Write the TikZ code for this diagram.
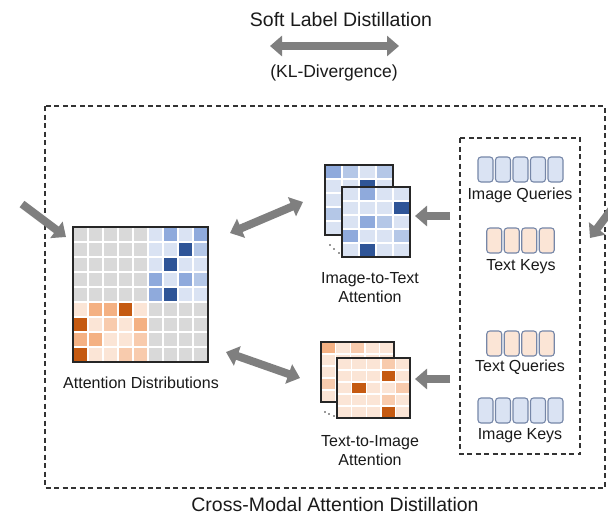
\documentclass[tikz,border=0pt]{standalone}
\usepackage{fontspec}
\setmainfont{Liberation Sans}
\usetikzlibrary{arrows.meta}
\definecolor{cG}{HTML}{D9D9D9}
\definecolor{cB0}{HTML}{DAE3F3}
\definecolor{cB1}{HTML}{B4C7E7}
\definecolor{cB2}{HTML}{8FAADC}
\definecolor{cB3}{HTML}{2F5597}
\definecolor{cO0}{HTML}{FBE5D6}
\definecolor{cO1}{HTML}{F8CBAD}
\definecolor{cO2}{HTML}{F4B183}
\definecolor{cO3}{HTML}{C55A11}
\definecolor{arrgray}{HTML}{7F7F7F}
\definecolor{txt}{HTML}{1A1A1A}
\definecolor{tokborder}{HTML}{7687A8}
\definecolor{tokblue}{HTML}{DAE3F3}
\definecolor{tokorange}{HTML}{FBE5D6}
\newcommand\heatmap[6]{%
  \foreach \rowlist [count=\r] in {#5} {
    \foreach \cc [count=\k] in \rowlist {
      \filldraw[fill=\cc, draw=white, line width=#6] ({#1+(\k-1)*#3},{#2+(\r-1)*#4}) rectangle ++(#3,#4);
    }
  }%
}
\newcommand\tokens[5]{% centre x, top y, count, fill, name
  \foreach \i in {1,...,#3} {
    \draw[tok, fill=#4] ({#1-(#3*17.5-2.5)/2+(\i-1)*17.5},#2) rectangle ++(15,25);
  }%
  \coordinate (#5) at (#1,#2);
}
\begin{document}
\begin{tikzpicture}[x=1pt,y=-1pt,
  lbl/.style={text=txt, font=\fontsize{16}{19}\selectfont, align=center, inner sep=0pt},
  big/.style={text=txt, font=\fontsize{19.5}{23}\selectfont, inner sep=0pt},
  dashbox/.style={draw=black!80, line width=1.3pt, dash pattern=on 5pt off 3.5pt},
  tok/.style={draw=tokborder, line width=1.1pt, rounded corners=3pt},
  fatarrow/.style={draw=arrgray, line width=8pt, -{Triangle[width=20pt,length=12pt]}},
  fatdbl/.style={draw=arrgray, line width=8pt, {Triangle[width=20pt,length=12pt]}-{Triangle[width=20pt,length=12pt]}},
  frame/.style={draw=black!85, line width=1.3pt}]
\useasboundingbox (0,0) rectangle (608,515);
\fill[white] (0,0) rectangle (608,515);

% titles
\node[big] (title) at (341,20) {Soft Label Distillation};
\node[big, font=\fontsize{17.5}{21}\selectfont] (kl) at (334,73) {(KL-Divergence)};
\coordinate (tl) at (270,46);
\coordinate (tr) at (399,46);
\draw[fatdbl] (tl) -- (tr);

% outer dashed box
\draw[dashbox] (45,106) rectangle (605,488);
\node[big] (bottom) at (335,505) {Cross-Modal Attention Distillation};

% incoming arrows
\coordinate (inL1) at (22,204);
\coordinate (inL2) at (66,237);
\draw[fatarrow] (inL1) -- (inL2);
\begin{scope}
\clip (0,0) rectangle (608,515);
\coordinate (inR1) at (614,206);
\coordinate (inR2) at (590,238);
\draw[fatarrow] (inR1) -- (inR2);
\end{scope}

% big matrix
\heatmap{73}{227}{15}{15}{%
 {cG,cG,cG,cG,cG,cB0,cB2,cB0,cB2},
 {cG,cG,cG,cG,cG,cB0,cB0,cB3,cB1},
 {cG,cG,cG,cG,cG,cB0,cB3,cB0,cB0},
 {cG,cG,cG,cG,cG,cB2,cB0,cB2,cB1},
 {cG,cG,cG,cG,cG,cB2,cB3,cB0,cB0},
 {cO0,cO2,cO2,cO3,cO0,cG,cG,cG,cG},
 {cO3,cO0,cO1,cO0,cO2,cG,cG,cG,cG},
 {cO2,cO2,cO0,cO0,cO1,cG,cG,cG,cG},
 {cO3,cO0,cO0,cO1,cO1,cG,cG,cG,cG}}{1.8pt}
\draw[frame] (73,227) rectangle (208,362);
\node[lbl] (attd) at (141,383) {Attention Distributions};

% image-to-text stack
\heatmap{325}{165}{17}{14}{%
 {cB2,cB1,cB0,cB1},
 {cB0,cB0,cB3,cB0},
 {cB0,cB0,cB0,cB0},
 {cB1,cB0,cB0,cB0},
 {cB0,cB0,cB0,cB0}}{1.4pt}
\draw[frame] (325,165) rectangle (393,235);
\fill[white] (342,187) rectangle (410,257);
\heatmap{342}{187}{17}{14}{%
 {cB0,cB2,cB0,cB0},
 {cB0,cB0,cB0,cB3},
 {cB0,cB2,cB1,cB0},
 {cB2,cB0,cB0,cB1},
 {cB0,cB3,cB0,cB0}}{1.4pt}
\draw[frame] (342,187) rectangle (410,257);
\fill[black!80] (330,245) circle (0.9) (334,249) circle (0.9) (339,253) circle (0.9);
\node[lbl] (i2t) at (370,288) {Image-to-Text\\Attention};

% text-to-image stack
\heatmap{321}{342}{14.6}{12}{%
 {cO2,cO0,cO1,cO0,cO0},
 {cO0,cO0,cO0,cO0,cO0},
 {cO0,cO0,cO0,cO0,cO0},
 {cO1,cO0,cO0,cO0,cO0},
 {cO0,cO0,cO0,cO0,cO0}}{1.4pt}
\draw[frame] (321,342) rectangle (394,402);
\fill[white] (337,358) rectangle (410,418);
\heatmap{337}{358}{14.6}{12}{%
 {cO0,cO0,cO0,cO1,cO0},
 {cO0,cO0,cO0,cO3,cO0},
 {cO0,cO3,cO0,cO0,cO1},
 {cO0,cO0,cO0,cO1,cO0},
 {cO0,cO0,cO0,cO3,cO0}}{1.4pt}
\draw[frame] (337,358) rectangle (410,418);
\fill[black!80] (325,412) circle (0.9) (329,414) circle (0.9) (334,416) circle (0.9);
\node[lbl] (t2i) at (370,451) {Text-to-Image\\Attention};

% middle double arrows
\coordinate (m1a) at (230,233);
\coordinate (m1b) at (303,202);
\draw[fatdbl] (m1a) -- (m1b);
\coordinate (m2a) at (226,352);
\coordinate (m2b) at (300,378);
\draw[fatdbl] (m2a) -- (m2b);

% inner dashed box and tokens
\draw[dashbox] (460,138) rectangle (580,454);
\tokens{520.5}{157}{5}{tokblue}{iq}
\node[lbl] (iqt) at (520,195) {Image Queries};
\tokens{520.5}{228}{4}{tokorange}{tk}
\node[lbl] (tkt) at (521,267) {Text Keys};
\tokens{520.5}{331}{4}{tokorange}{tq}
\node[lbl] (tqt) at (520,367) {Text Queries};
\tokens{520.5}{398}{5}{tokblue}{ik}
\node[lbl] (ikt) at (520,436) {Image Keys};

% arrows from tokens to attention maps
\coordinate (a1s) at (450,216);
\coordinate (a1e) at (415,216);
\draw[fatarrow] (a1s) -- (a1e);
\coordinate (a2s) at (450,379);
\coordinate (a2e) at (415,379);
\draw[fatarrow] (a2s) -- (a2e);
\end{tikzpicture}
\end{document}
